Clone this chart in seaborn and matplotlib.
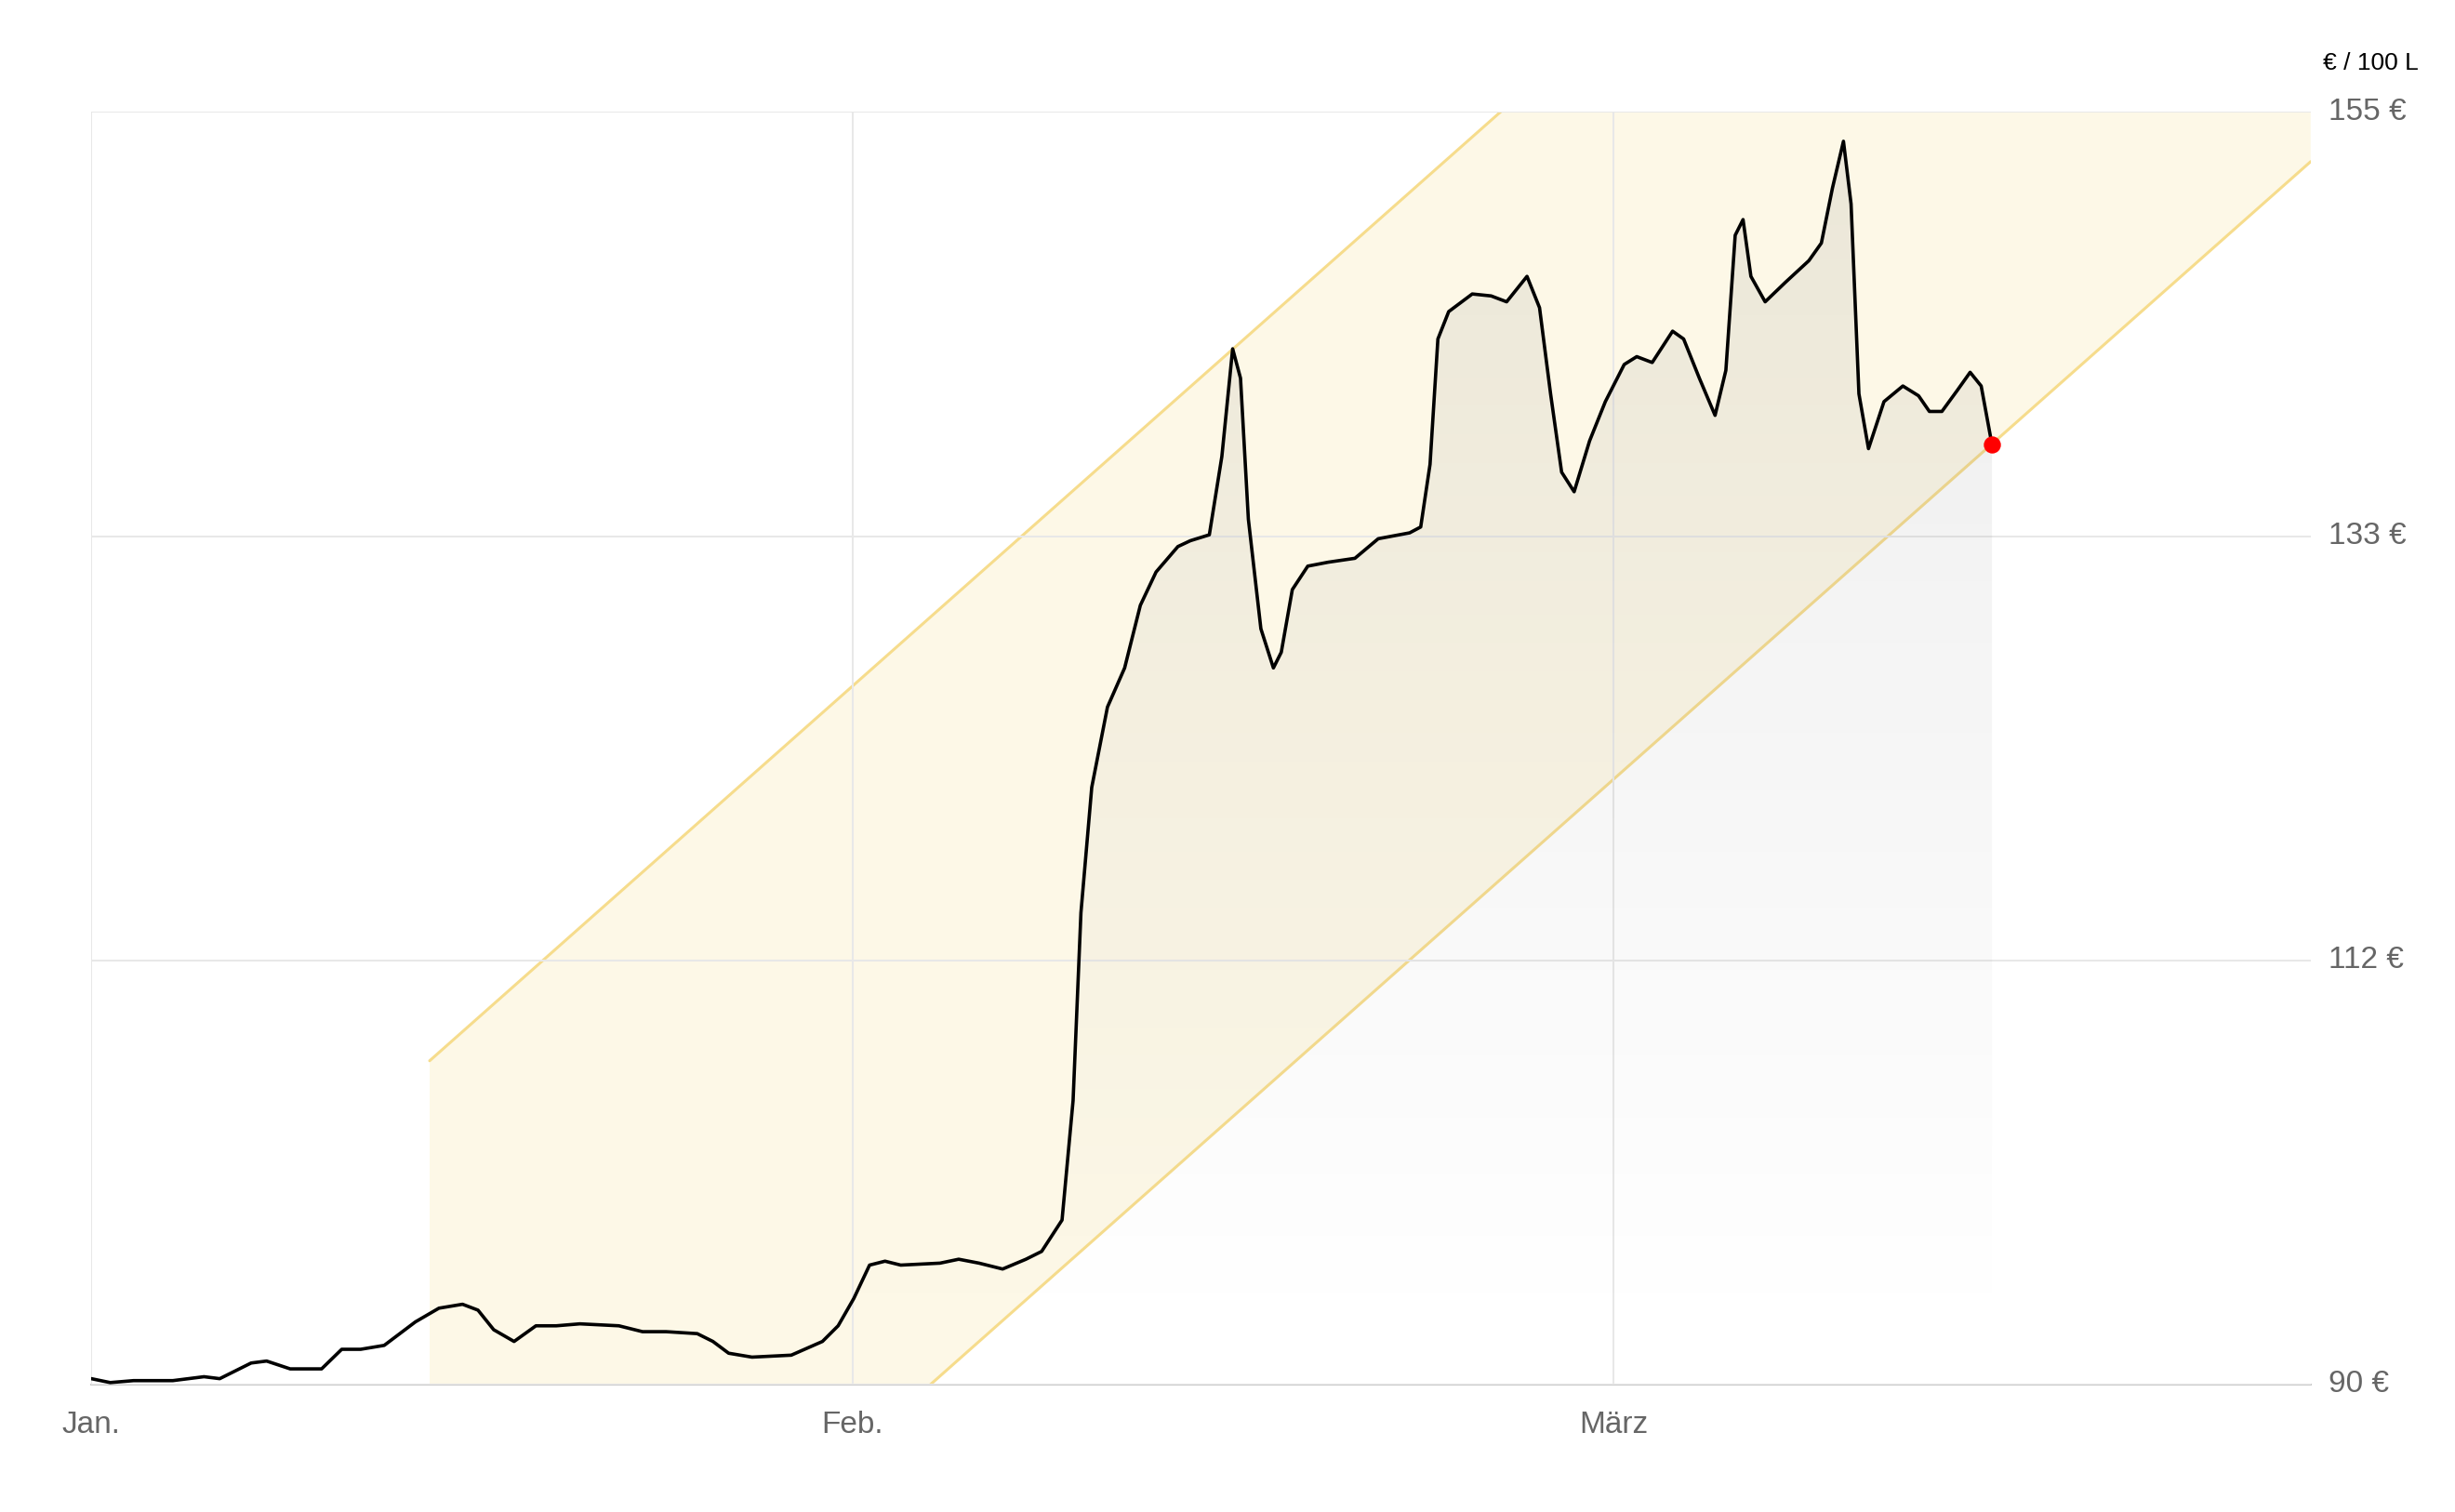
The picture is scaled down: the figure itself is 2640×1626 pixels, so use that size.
import numpy as np
import pandas as pd
import matplotlib
matplotlib.use('Agg')
import matplotlib.pyplot as plt
import seaborn as sns
from matplotlib.patches import Polygon

# days since Jan 1 (months drawn as 31 units each) and price in EUR / 100 L
days = [0, 0.77, 1.72, 3.32, 4.59, 5.23, 6.51, 7.14, 8.1, 9.38, 10.2, 10.97, 11.93, 13.2, 14.16,
        15.12, 15.75, 16.39, 17.22, 18.11, 18.94, 19.9, 21.49, 22.45, 23.41, 24.68, 25.32, 25.96,
        26.91, 28.51, 29.78, 30.42, 31.06, 31.7, 32.33, 32.97, 34.57, 35.33, 36.16, 37.12, 38.07,
        38.71, 39.54, 39.99, 40.31, 40.75, 41.39, 42.09, 42.73, 43.37, 44.26, 44.77, 45.54, 46.05,
        46.49, 46.81, 47.13, 47.64, 48.15, 48.47, 48.92, 49.55, 50.38, 51.47, 52.42, 53.7, 54.15,
        54.53, 54.85, 55.29, 56.25, 57.02, 57.65, 58.48, 58.99, 59.44, 59.89, 60.4, 61.03, 61.67,
        62.44, 62.95, 63.58, 64.41, 64.86, 65.5, 66.14, 66.58, 66.96, 67.28, 67.6, 68.18, 69.01,
        69.96, 70.47, 70.92, 71.37, 71.68, 72.0, 72.39, 73.02, 73.79, 74.43, 74.87, 75.38, 76.02,
        76.53, 76.98, 77.42]
price = [90.3, 90.1, 90.2, 90.2, 90.4, 90.3, 91.1, 91.2, 90.8, 90.8, 91.8, 91.8, 92.0, 93.2, 93.9,
         94.1, 93.8, 92.8, 92.2, 93.0, 93.0, 93.1, 93.0, 92.7, 92.7, 92.6, 92.2, 91.6,
         91.4, 91.5, 92.2, 93.0, 94.4, 96.1, 96.3, 96.1, 96.2, 96.4, 96.2, 95.9, 96.4,
         96.8, 98.4, 104.5, 114.1, 120.5, 124.6, 126.6, 129.8, 131.5, 132.8, 133.1, 133.4, 137.4,
         142.9, 141.4, 134.2, 128.6, 126.6, 127.4, 130.6, 131.8, 132.0, 132.2, 133.2, 133.5, 133.8,
         137.0, 143.4, 144.8, 145.7, 145.6, 145.3, 146.6, 145.0, 140.6, 136.6, 135.6, 138.2, 140.2,
         142.1, 142.5, 142.2, 143.8, 143.4, 141.4, 139.5, 141.8, 148.7, 149.5, 146.6, 145.3, 146.3,
         147.4, 148.3, 151.1, 153.5, 150.3, 140.6, 137.8, 140.2, 141.0, 140.5, 139.7, 139.7, 140.8,
         141.7, 141.0, 138.0]

month_ticks = [0, 31, 62]
month_labels = ['Jan.', 'Feb.', 'März']
y_ticks = [90, 111.67, 133.33, 155]
y_labels = ['90 €', '112 €', '133 €', '155 €']

# trend channel: lower edge passes 90 at day 34.18, slope 1.111 per day, width 39.2
band_start, band_end = 13.78, 90.4
band_slope, band_anchor, band_width = 1.111, 34.18, 39.2

sns.set_style('white')
plt.rcParams['font.family'] = ['Liberation Sans', 'DejaVu Sans']

fig = plt.figure(figsize=(26.4, 16.26), dpi=100)
ax = fig.add_axes([0.0372, 0.0843, 0.9040, 0.8417])
x_max, y_min, y_max = 90.4, 90, 155

# channel
bx = np.array([band_start, band_end])
lower = 90 + band_slope * (bx - band_anchor)
upper = lower + band_width
ax.fill_between(bx, lower, upper, color='#fdf8e7', zorder=0.5, lw=0)
ax.plot(bx, lower, color='#f6dc8c', lw=2.2, zorder=2)
ax.plot(bx, upper, color='#f6dc8c', lw=2.2, zorder=2)

# gray gradient under the line
verts = list(zip(days, price)) + [(days[-1], y_min), (days[0], y_min)]
poly = Polygon(verts, closed=True, facecolor='none', edgecolor='none')
ax.add_patch(poly)
grad = np.linspace(0.16, 0.0, 256).reshape(-1, 1)
rgba = np.zeros((256, 1, 4))
rgba[..., :3] = 0.55
rgba[..., 3] = np.clip(grad, 0, None)
img = ax.imshow(rgba, extent=[0, x_max, 93, 155], aspect='auto', zorder=3, origin='upper')
img.set_clip_path(poly)

df = pd.DataFrame({'day': days, 'price': price})
sns.lineplot(data=df, x='day', y='price', ax=ax, color='black', lw=2.6, zorder=5,
             solid_joinstyle='round', solid_capstyle='round')
ax.scatter([days[-1]], [price[-1]], s=150, color='#ff0000', zorder=6)

ax.set_xlim(0, x_max)
ax.set_ylim(y_min, y_max)
ax.set_xticks(month_ticks)
ax.set_xticklabels(month_labels)
ax.set_yticks(y_ticks)
ax.set_yticklabels(y_labels)
ax.yaxis.tick_right()
ax.tick_params(axis='both', length=0, labelsize=24, labelcolor='#666666')
ax.tick_params(axis='x', pad=20)
ax.tick_params(axis='y', pad=14)
ax.set_axisbelow(False)
ax.grid(True, color='#e8e8e8', lw=1.5, zorder=1)
ax.set_xlabel('')
ax.set_ylabel('')
for s in ['top', 'right', 'left']:
    ax.spines[s].set_visible(False)
ax.spines['bottom'].set_color('#cccccc')
ax.spines['bottom'].set_linewidth(1.5)
for lbl in ax.get_yticklabels():
    lbl.set_verticalalignment('center')

fig.text(0.985, 0.958, '€ / 100 L', ha='right', va='center', fontsize=19, color='black')

fig.savefig('out.png', dpi=100)
